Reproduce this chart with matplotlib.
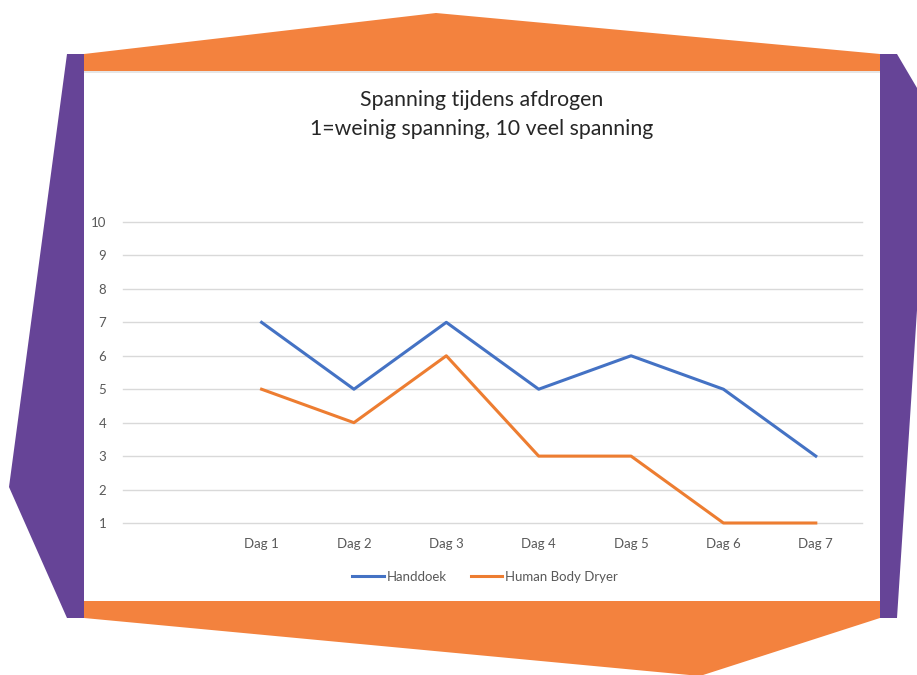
import matplotlib
matplotlib.use('Agg')
import matplotlib.pyplot as plt
from matplotlib.patches import Polygon
from matplotlib.transforms import Affine2D

plt.rcParams['font.family'] = ['Lato', 'DejaVu Sans']

categories = ['', 'Dag 1', 'Dag 2', 'Dag 3', 'Dag 4', 'Dag 5', 'Dag 6', 'Dag 7']
handdoek = [None, 7, 5, 7, 5, 6, 5, 3]
body_dryer = [None, 5, 4, 6, 3, 3, 1, 1]
y_ticks = [1, 2, 3, 4, 5, 6, 7, 8, 9, 10]

W, H = 917, 675
fig = plt.figure(figsize=(W / 100, H / 100), dpi=100)

# pixel coords, origin top-left
px = Affine2D().scale(1 / W, -1 / H).translate(0, 1) + fig.transFigure

ORANGE = '#F3823E'
PURPLE = '#664497'

def shape(pts, color, z=0):
    fig.add_artist(Polygon(pts, closed=True, transform=px, facecolor=color,
                           edgecolor='none', zorder=z))

# white card
shape([(84, 71), (880, 71), (880, 601), (84, 601)], 'white', 0)
# top and bottom orange
shape([(84, 54), (436, 13), (880, 54), (880, 71), (84, 71)], ORANGE, 1)
shape([(84, 601), (880, 601), (880, 618), (700, 676), (84, 618)], ORANGE, 1)
# purple sides
shape([(67, 54), (84, 54), (84, 618), (67, 618), (9, 487)], PURPLE, 1)
shape([(880, 54), (897, 54), (930, 110), (897, 618), (880, 618)], PURPLE, 1)
# faint shadow under top band
shape([(84, 71), (880, 71), (880, 73), (84, 73)], '#E6E6E6', 1)

ax = fig.add_axes([123 / W, 1 - 523 / H, (862 - 123) / W, (523 - 222) / H])
ax.set_zorder(2)
ax.patch.set_alpha(0)

x = range(len(categories))
ax.plot(x, handdoek, color='#4472C4', lw=2.2, label='Handdoek', clip_on=False,
        solid_joinstyle='round')
ax.plot(x, body_dryer, color='#ED7D31', lw=2.2, label='Human Body Dryer', clip_on=False,
        solid_joinstyle='round')

ax.set_xlim(-0.5, len(categories) - 0.5)
ax.set_ylim(1, 10)
ax.set_yticks(y_ticks)
ax.set_xticks(list(x))
ax.set_xticklabels(categories)
ax.grid(axis='y', color='#D9D9D9', lw=1)
for gl in ax.get_ygridlines():
    gl.set_clip_on(False)
ax.set_axisbelow(True)
for s in ax.spines.values():
    s.set_visible(False)
ax.tick_params(axis='both', length=0, labelsize=9.5, labelcolor='#595959')
ax.tick_params(axis='y', pad=12)
ax.tick_params(axis='x', pad=11)

fig.text(482 / W, 1 - 100 / H, 'Spanning tijdens afdrogen', ha='center', va='center',
         fontsize=15.3, color='#262626', zorder=3)
fig.text(482 / W, 1 - 129 / H, '1=weinig spanning, 10 veel spanning', ha='center',
         va='center', fontsize=15.3, color='#262626', zorder=3)

leg = fig.legend(loc='center', bbox_to_anchor=(485 / W, 1 - 577 / H), ncol=2,
                 frameon=False, fontsize=9.5, handlelength=2.4, handletextpad=0.2,
                 columnspacing=1.8)
for t in leg.get_texts():
    t.set_color('#595959')
leg.set_zorder(3)

fig.savefig('out.png', dpi=100, facecolor='white')
